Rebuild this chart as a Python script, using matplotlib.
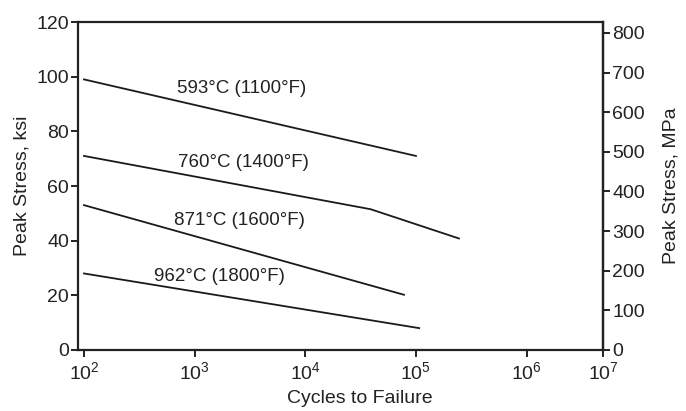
import numpy as np
import matplotlib
matplotlib.use("Agg")
import matplotlib.pyplot as plt
from matplotlib.ticker import FixedLocator, FuncFormatter, NullLocator

plt.rcParams['font.family'] = ['Liberation Sans', 'DejaVu Sans']
plt.rcParams['mathtext.fontset'] = 'custom'
plt.rcParams['mathtext.rm'] = 'Liberation Sans'
plt.rcParams['mathtext.it'] = 'Liberation Sans'

# Data (cycles to failure, peak stress in ksi)
labels = ["593°C (1100°F)", "760°C (1400°F)", "871°C (1600°F)", "962°C (1800°F)"]
cycles_593 = [1e2, 1e5]
stress_593 = [99, 71]
cycles_760 = [1e2, 3.9e4, 2.45e5]
stress_760 = [71, 51.5, 40.8]
cycles_871 = [1e2, 7.8e4]
stress_871 = [53, 20.2]
cycles_962 = [1e2, 1.07e5]
stress_962 = [28, 8.0]
label_x = [2650, 2780, 2540, 1680]
label_y = [95.6, 68.6, 47.4, 27.0]
xticks = [1e2, 1e3, 1e4, 1e5, 1e6, 1e7]
yticks_ksi = [0, 20, 40, 60, 80, 100, 120]
yticks_mpa = [0, 100, 200, 300, 400, 500, 600, 700, 800]
KSI_TO_MPA = 6.895

# Axis as drawn in the original: last decade compressed
def fwd(x):
    l = np.log10(np.clip(np.asarray(x, dtype=float), 1e-300, None))
    return np.where(l <= 6, l, 6 + (l - 6) * (76 / 110))

def inv(y):
    y = np.asarray(y, dtype=float)
    return np.where(y <= 6, 10 ** y, 10 ** (6 + (y - 6) * (110 / 76)))

fs = 14
fig = plt.figure(figsize=(6.86, 4.11), dpi=100)
ax = fig.add_axes([78 / 686, 1 - 350 / 411, (603 - 78) / 686, (350 - 22) / 411])
ax.set_xscale('function', functions=(fwd, inv))
ax.set_xlim(10 ** (2 - 6 / 111), 1e7)
ax.set_ylim(0, 120)

lw = 1.3
ax.plot(cycles_593, stress_593, color='#1a1a1a', lw=lw)
ax.plot(cycles_760, stress_760, color='#1a1a1a', lw=lw)
ax.plot(cycles_871, stress_871, color='#1a1a1a', lw=lw)
ax.plot(cycles_962, stress_962, color='#1a1a1a', lw=lw)

for t, x, y in zip(labels, label_x, label_y):
    ax.text(x, y, t, ha='center', va='center', fontsize=13.5, color='#222222')

ax.xaxis.set_major_locator(FixedLocator(xticks))
ax.xaxis.set_minor_locator(NullLocator())
ax.xaxis.set_major_formatter(FuncFormatter(lambda v, p: r"$10^{%d}$" % round(np.log10(v))))
ax.set_yticks(yticks_ksi)

for s in ax.spines.values():
    s.set_linewidth(1.6)
    s.set_color('#222222')

ax.tick_params(axis='both', direction='out', length=5, width=1.4, labelsize=fs,
               colors='#222222', pad=1.5)
ax.tick_params(axis='x', pad=3)

ax.set_xlabel("Cycles to Failure", fontsize=fs, color='#222222', labelpad=5, x=0.537)
ax.set_ylabel("Peak Stress, ksi", fontsize=fs, color='#222222', labelpad=4)

sec = ax.secondary_yaxis('right', functions=(lambda k: k * KSI_TO_MPA, lambda m: m / KSI_TO_MPA))
sec.set_yticks(yticks_mpa)
sec.spines['right'].set_linewidth(1.6)
sec.tick_params(direction='out', length=5, width=1.4, labelsize=fs, colors='#222222', pad=1.5)
sec.set_ylabel("Peak Stress, MPa", fontsize=fs, color='#222222', labelpad=13)

fig.savefig("out.png", dpi=100, facecolor='white')
